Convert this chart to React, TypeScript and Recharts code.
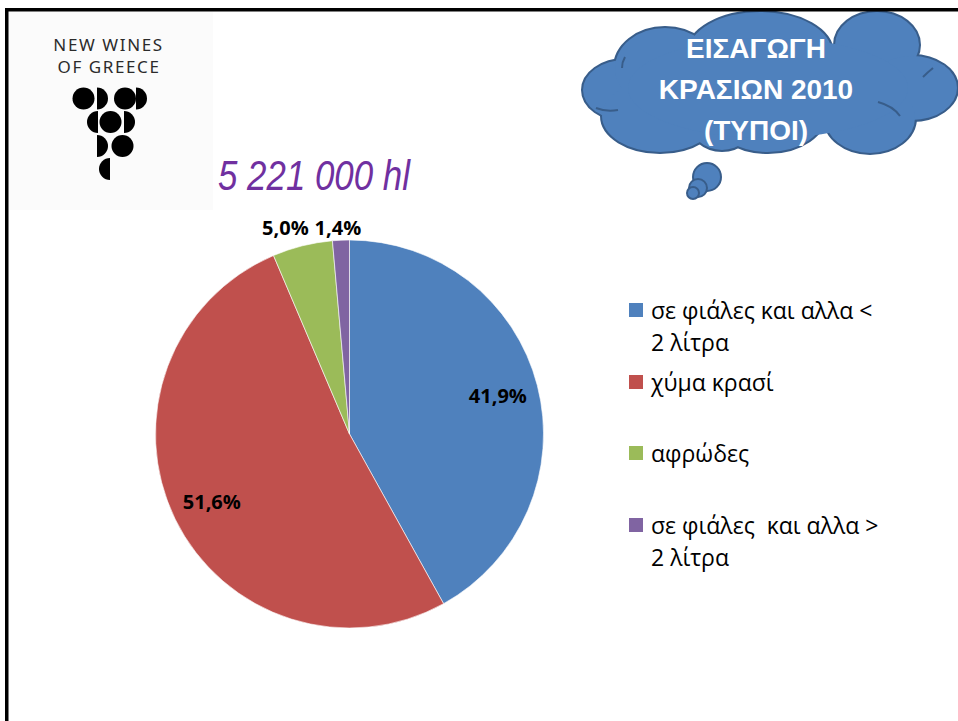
import React from "react"
import { PieChart, Pie, Cell, Legend } from "recharts"

// imports 2010 by type, % of 5 221 000 hl
const categories = [
  "σε φιάλες και αλλα < 2 λίτρα",
  "χύμα κρασί",
  "αφρώδες",
  "σε φιάλες  και αλλα > 2 λίτρα",
]
const shares = [41.9, 51.6, 5.0, 1.4]
const colors = ["#4f81bd", "#c0504d", "#9bbb59", "#8064a2"]

const totalLabel = "5 221 000 hl"
const titleLines = ["ΕΙΣΑΓΩΓΗ", "ΚΡΑΣΙΩΝ 2010", "(ΤΥΠΟΙ)"]

const data = categories.map((name, i) => ({ name, value: shares[i] }))

const RAD = Math.PI / 180
const fmt = (v: number) => v.toFixed(1).replace(".", ",") + "%"

function renderLabel(props: any) {
  const { cx, cy, midAngle, outerRadius, value } = props
  let x: number
  let y: number
  if (value < 10) {
    x = cx + (outerRadius + 70) * Math.cos(-midAngle * RAD)
    y = cy - outerRadius - 13
  } else {
    const r = outerRadius * 0.79
    x = cx + r * Math.cos(-midAngle * RAD)
    y = cy + r * Math.sin(-midAngle * RAD)
  }
  return (
    <text
      x={x}
      y={y}
      textAnchor="middle"
      dominantBaseline="central"
      fill="#000"
      fontFamily="'Open Sans', sans-serif"
      fontWeight={700}
      fontSize={20}
    >
      {fmt(value)}
    </text>
  )
}

function LegendBox() {
  return (
    <div style={{ fontFamily: "'Open Sans', sans-serif", fontSize: 23, color: "#000" }}>
      {categories.map((c, i) => (
        <div key={c} style={{ display: "flex", height: 71.7, alignItems: "flex-start" }}>
          <div style={{ width: 14, height: 14, background: colors[i], marginTop: 9, marginRight: 8, flex: "none" }} />
          <div style={{ width: 236, lineHeight: "32px", whiteSpace: "pre-wrap" }}>{c}</div>
        </div>
      ))}
    </div>
  )
}

function Cloud() {
  // lobes as ellipses: cx, cy, rx, ry
  const lobes = [
    [625, 90, 42, 30],
    [665, 68, 50, 40],
    [760, 53, 72, 41],
    [877, 45, 42, 33],
    [912, 88, 45, 32],
    [870, 118, 45, 35],
    [768, 112, 58, 40],
    [722, 122, 32, 28],
    [660, 116, 58, 36],
  ]
  const bubbles = [
    [707, 177, 14],
    [698, 188, 9],
    [693, 193, 6],
  ]
  return (
    <g>
      {lobes.map(([x, y, rx, ry], i) => (
        <ellipse key={"s" + i} cx={x} cy={y} rx={rx} ry={ry} fill="#385d8a" stroke="#385d8a" strokeWidth={4} />
      ))}
      {lobes.map(([x, y, rx, ry], i) => (
        <ellipse key={"f" + i} cx={x} cy={y} rx={rx} ry={ry} fill="#4f81bd" />
      ))}
      <ellipse cx={768} cy={88} rx={140} ry={50} fill="#4f81bd" />
      <path d="M596,108 Q606,112 618,110" fill="none" stroke="#385d8a" strokeWidth={2} />
      <path d="M933,68 Q928,72 923,77" fill="none" stroke="#385d8a" strokeWidth={2} />
      <path d="M878,102 Q893,106 900,116" fill="none" stroke="#385d8a" strokeWidth={2} />
      <path d="M625,57 Q622,62 622,68" fill="none" stroke="#385d8a" strokeWidth={2} />
      {bubbles.map(([x, y, r], i) => (
        <circle key={"b" + i} cx={x} cy={y} r={r} fill="#4f81bd" stroke="#385d8a" strokeWidth={2} />
      ))}
      {titleLines.map((t, i) => (
        <text
          key={t}
          x={756}
          y={48 + i * 41}
          textAnchor="middle"
          dominantBaseline="central"
          fill="#fff"
          fontFamily="'Liberation Sans', Arial, sans-serif"
          fontWeight={700}
          fontSize={28}
        >
          {t}
        </text>
      ))}
    </g>
  )
}

function Logo() {
  const full = [
    [83.5, 98.5],
    [125, 98.5],
    [110.5, 122],
    [122.5, 146],
  ]
  const r = 11
  // half discs: x of flat edge, y centre, side (1 = bulge right, -1 = bulge left)
  const halves = [
    [97, 98.5, 1],
    [136, 98.5, 1],
    [98, 122, -1],
    [124, 122, 1],
    [97, 146, 1],
    [110, 169, -1],
  ]
  return (
    <g>
      <rect x={8} y={12} width={205} height={198} fill="#fbfbfb" />
      <text x={108.5} y={51} textAnchor="middle" fontFamily="'Noto Sans', sans-serif" fontSize={17} letterSpacing={1.6} fill="#2b2b2b">
        NEW WINES
      </text>
      <text x={109} y={73} textAnchor="middle" fontFamily="'Noto Sans', sans-serif" fontSize={17} letterSpacing={1.6} fill="#2b2b2b">
        OF GREECE
      </text>
      {full.map(([x, y], i) => (
        <circle key={i} cx={x} cy={y} r={r} fill="#000" />
      ))}
      {halves.map(([x, y, s], i) => (
        <path
          key={"h" + i}
          d={`M${x},${y - r} A${r},${r} 0 0 ${s > 0 ? 1 : 0} ${x},${y + r} Z`}
          fill="#000"
        />
      ))}
    </g>
  )
}

export default function App() {
  return (
    <div style={{ position: "absolute", left: 0, top: 0, width: 958, height: 721, background: "#fff", overflow: "hidden" }}>
      <svg width={958} height={721} style={{ position: "absolute", left: 0, top: 0 }}>
        <Logo />
        <Cloud />
        <rect x={5} y={8} width={960} height={3.5} fill="#000" />
        <rect x={5} y={8} width={3.5} height={720} fill="#000" />
        <text
          x={218}
          y={190}
          textLength={192}
          lengthAdjust="spacingAndGlyphs"
          fontFamily="'Liberation Sans', Arial, sans-serif"
          fontStyle="italic"
          fontSize={42}
          fill="#7030a0"
        >
          {totalLabel}
        </text>
      </svg>
      <div style={{ position: "absolute", left: 0, top: 0 }}>
        <PieChart width={958} height={721} margin={{ top: 0, right: 0, bottom: 0, left: 0 }}>
          <Pie
            data={data}
            dataKey="value"
            nameKey="name"
            cx={349.5}
            cy={434}
            outerRadius={194}
            startAngle={90}
            endAngle={-270}
            stroke="#ffffff"
            strokeWidth={0.6}
            label={renderLabel}
            labelLine={false}
            isAnimationActive={false}
          >
            {data.map((d, i) => (
              <Cell key={d.name} fill={colors[i]} />
            ))}
          </Pie>
          <Legend
            layout="vertical"
            content={() => <LegendBox />}
            wrapperStyle={{ position: "absolute", left: 629, top: 294, width: 300 }}
          />
        </PieChart>
      </div>
    </div>
  )
}
